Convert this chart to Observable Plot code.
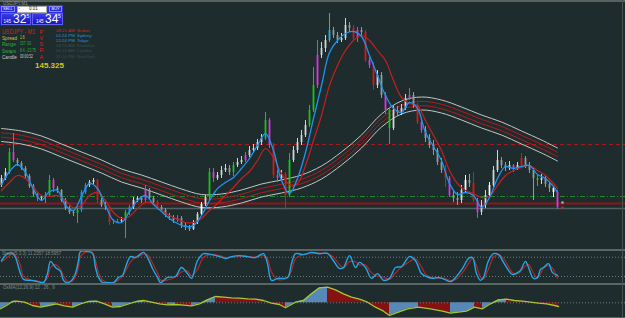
<!DOCTYPE html>
<html><head><meta charset="utf-8">
<script src="https://cdn.jsdelivr.net/npm/d3@7"></script>
<script src="https://cdn.jsdelivr.net/npm/@observablehq/plot@0.6"></script>
<style>
html,body{margin:0;padding:0;background:#1f2c2e;}
#wrap{position:relative;width:625px;height:318px;overflow:hidden;background:#1f2c2e;font-family:"Liberation Sans",Arial,sans-serif;}
.pl{position:absolute;left:0;}
.t{position:absolute;white-space:nowrap;line-height:1;transform-origin:0 0;}
.ln{position:absolute;}
</style></head><body><div id="wrap"></div><script>
// ---------- DATA ----------
const symbol = "USDJPY";
const timeframe = "M1";
const lastPrice = "145.325";
const opens = [
145.55,145.62,145.68,145.88,145.80,145.77,145.72,145.64,145.54,145.46,
145.42,145.43,145.45,145.60,145.52,145.50,145.40,145.32,145.28,145.27,
145.30,145.48,145.55,145.58,145.60,145.40,145.35,145.33,145.18,145.18,
145.19,145.20,145.28,145.33,145.40,145.42,145.40,145.50,145.42,145.38,
145.33,145.30,145.25,145.23,145.20,145.22,145.15,145.13,145.11,145.18,
145.26,145.36,145.43,145.68,145.62,145.65,145.70,145.72,145.68,145.75,
145.78,145.80,145.85,145.90,145.92,145.98,146.02,146.20,145.95,145.65,
145.62,145.66,145.45,145.80,145.90,145.98,146.05,146.15,146.30,146.55,
146.85,146.92,147.00,147.10,147.05,147.00,147.02,147.15,147.12,147.02,
147.10,147.08,146.80,146.75,146.55,146.65,146.45,146.30,146.12,146.30,
146.28,146.32,146.42,146.45,146.35,146.18,146.10,146.02,145.95,145.90,
145.78,145.70,145.62,145.45,145.42,145.40,145.50,145.60,145.57,145.40,
145.28,145.35,145.45,145.55,145.70,145.80,145.75,145.72,145.75,145.72,
145.75,145.82,145.75,145.70,145.62,145.60,145.62,145.56,145.52,145.48];
const highs = [
145.65,145.72,145.92,146.07,145.82,145.79,145.74,145.66,145.56,145.48,
145.45,145.48,145.65,145.62,145.54,145.51,145.42,145.34,145.30,145.33,
145.50,145.57,145.60,145.62,145.61,145.42,145.38,145.34,145.21,145.21,
145.23,145.30,145.35,145.43,145.44,145.44,145.55,145.52,145.44,145.40,
145.35,145.32,145.27,145.25,145.25,145.24,145.18,145.15,145.20,145.28,
145.38,145.45,145.72,145.72,145.68,145.74,145.76,145.75,145.78,145.82,
145.84,145.88,145.94,145.96,146.01,146.06,146.28,146.22,145.97,145.70,
145.70,145.68,145.87,145.94,146.02,146.10,146.20,146.35,146.73,147.00,
146.98,147.05,147.27,147.13,147.08,147.07,147.22,147.18,147.15,147.13,
147.13,147.10,146.83,146.78,146.70,146.68,146.48,146.32,146.34,146.34,
146.36,146.46,146.52,146.48,146.37,146.20,146.14,146.06,146.00,145.92,
145.82,145.75,145.64,145.50,145.48,145.55,145.65,145.66,145.68,145.42,
145.40,145.50,145.58,145.74,145.90,145.83,145.78,145.79,145.76,145.78,
145.87,145.84,145.78,145.72,145.65,145.66,145.64,145.58,145.54,145.50];
const lows = [
145.53,145.60,145.66,145.78,145.74,145.70,145.62,145.52,145.44,145.39,
145.40,145.37,145.43,145.48,145.47,145.38,145.30,145.26,145.24,145.17,
145.28,145.46,145.53,145.56,145.37,145.33,145.30,145.15,145.16,145.17,
145.17,145.02,145.25,145.31,145.38,145.37,145.38,145.40,145.36,145.30,
145.28,145.23,145.20,145.17,145.18,145.12,145.10,145.09,145.10,145.16,
145.24,145.34,145.40,145.58,145.60,145.62,145.68,145.65,145.64,145.73,
145.76,145.78,145.83,145.88,145.90,145.95,146.00,145.92,145.62,145.58,
145.60,145.30,145.43,145.78,145.87,145.95,146.03,146.13,146.28,146.52,
146.82,146.88,146.98,147.02,146.97,146.98,147.00,147.08,147.00,146.98,
147.04,146.78,146.72,146.50,146.52,146.42,146.26,145.96,146.10,146.24,
146.25,146.30,146.40,146.32,146.16,146.07,145.98,145.92,145.85,145.75,
145.67,145.53,145.43,145.38,145.35,145.37,145.48,145.53,145.38,145.22,
145.25,145.32,145.42,145.53,145.68,145.72,145.69,145.70,145.68,145.70,
145.73,145.72,145.67,145.40,145.54,145.56,145.53,145.48,145.43,145.31];
const closes = [
145.62,145.68,145.88,145.80,145.77,145.72,145.64,145.54,145.46,145.42,
145.43,145.45,145.60,145.52,145.50,145.40,145.32,145.28,145.27,145.30,
145.48,145.55,145.58,145.60,145.40,145.35,145.33,145.18,145.18,145.19,
145.20,145.28,145.33,145.40,145.42,145.40,145.50,145.42,145.38,145.33,
145.30,145.25,145.23,145.20,145.22,145.15,145.13,145.11,145.18,145.26,
145.36,145.43,145.68,145.62,145.65,145.70,145.72,145.68,145.75,145.78,
145.80,145.85,145.90,145.92,145.98,146.02,146.20,145.95,145.65,145.62,
145.66,145.45,145.80,145.90,145.98,146.05,146.15,146.30,146.55,146.85,
146.92,147.00,147.10,147.05,147.00,147.02,147.15,147.12,147.02,147.10,
147.08,146.80,146.75,146.55,146.65,146.45,146.30,146.12,146.30,146.28,
146.32,146.42,146.45,146.35,146.18,146.10,146.02,145.95,145.90,145.78,
145.70,145.62,145.45,145.42,145.40,145.50,145.60,145.57,145.40,145.28,
145.35,145.45,145.55,145.70,145.80,145.75,145.72,145.75,145.72,145.75,
145.82,145.75,145.70,145.62,145.60,145.62,145.56,145.52,145.48,145.33];
// highlighted candle colour codes (g green, m magenta, r red, b blue, c cyan, w white, - normal)
const candleCodes =
 "--gm-----m" + "-ggm-----g" + "bb--r--rbb" + "-gb---m--r" + "----m-----" +
 "w-gm----g-" + "-m----gmrm" + "-rg----ggm" + "--c-----rm" + "-rmr--mg--" +
 "--m-rm----" + "-rm---w-rm" + "--w-----m-" + "r---g---wm";
// fast (blue) and slow (red) moving averages, every 2nd bar + last bar
const fastMA = [145.56,145.69,145.76,145.68,145.51,145.40,145.49,145.50,145.35,145.30,
145.44,145.57,145.52,145.35,145.20,145.18,145.29,145.40,145.45,145.36,
145.29,145.22,145.17,145.14,145.15,145.25,145.40,145.52,145.58,145.63,
145.72,145.82,145.95,146.07,145.90,145.60,145.47,145.62,145.88,146.22,
146.55,146.88,147.00,147.07,147.09,147.04,146.85,146.65,146.45,146.32,
146.28,146.38,146.32,146.08,145.94,145.80,145.57,145.46,145.48,145.45,
145.33,145.43,145.62,145.74,145.72,145.74,145.75,145.66,145.62,145.54,145.48];
const slowMA = [145.50,145.58,145.65,145.62,145.53,145.45,145.44,145.45,145.40,145.33,
145.35,145.45,145.48,145.40,145.28,145.22,145.24,145.32,145.38,145.37,
145.30,145.25,145.21,145.18,145.18,145.22,145.30,145.37,145.45,145.53,
145.62,145.69,145.80,145.92,145.83,145.67,145.56,145.57,145.75,146.00,
146.25,146.55,146.75,146.90,147.00,147.05,147.00,146.90,146.80,146.60,
146.43,146.37,146.35,146.20,146.05,145.90,145.70,145.57,145.50,145.47,
145.43,145.44,145.55,145.65,145.70,145.73,145.75,145.70,145.65,145.57,145.52];
// long MA envelope centre, every 5th bar + last bar
const envCenter = [146.055,146.03,145.98,145.90,145.82,145.74,145.65,145.59,145.52,145.45,
145.395,145.40,145.44,145.50,145.54,145.59,145.68,145.82,145.99,146.20,
146.33,146.37,146.34,146.27,146.19,146.12,146.03,145.94,145.86];
const envOffsets = [{o:-0.065,c:"#c2c6c6"},{o:-0.022,c:"#b3191b"},{o:0.022,c:"#b3191b"},{o:0.065,c:"#c2c6c6"}];
// horizontal levels
const levels = [
 {p:145.96, c:"#a8191b", w:1, dash:"4,3"},
 {p:145.44, c:"#1f8a2a", w:1, dash:"5,2,1,2"},
 {p:145.37, c:"#8f1618", w:2, dash:null},
 {p:145.32, c:"#4f6162", w:1.5, dash:null}];
const endMarks = [{bar:140.25, p:145.33, c:"#e01a1a"},{bar:140.25, p:145.38, c:"#a9adad"}];
// stochastic %K and signal as [bar, value]
const stochK = [[0,69],[1.5,91],[2.75,92],[3.5,79],[4.75,29],[5.5,11],[7.25,8],[9,4],[10.5,1],[11.5,29],
[12.25,67],[13.5,48],[14.75,36],[15.5,8],[16.5,0],[17.75,11],[18.5,29],[19.25,69],[19.75,98],[21.5,98],
[22.75,92],[23.5,48],[24.25,17],[25.25,1],[26.5,1],[28,1],[29.25,17],[30.25,23],[31,48],[32.25,82],
[33.5,79],[34.25,85],[35.5,95],[36.5,79],[37.75,45],[39,17],[39.75,1],[41.5,17],[43.5,20],[45,48],
[46.5,29],[47.5,14],[49,69],[50.5,91],[52.5,88],[54.5,82],[56,76],[57.5,82],[59.5,85],[61.5,82],
[63.5,79],[65.5,91],[66.5,60],[67.5,8],[69,14],[71.5,17],[72.5,60],[73.5,91],[75.5,88],[77.5,95],
[79.5,91],[81.5,92],[83,69],[84.5,45],[85.5,48],[87,85],[88.5,48],[89.5,64],[91,48],[92.5,14],
[94,29],[95.5,8],[97,14],[98.5,48],[100,51],[102,82],[103.5,69],[105,29],[106.25,20],[107.75,14],
[109.25,17],[110.75,11],[112.25,4],[113.75,20],[115.25,45],[116.75,76],[117.75,79],[118.75,29],[119.75,8],[120.5,17],
[121.75,69],[123,91],[124.25,88],[125.5,64],[126.75,39],[127.75,26],[129,32],[129.75,39],[131,67],[131.75,48],
[133,14],[134,17],[134.75,42],[135.5,48],[136.75,60],[137.75,32],[139,23]];
const stochD = [[0,65],[1.5,80],[2.75,91],[3.5,86],[4.75,54],[5.5,20],[7.25,10],[9,6],[10.5,3],[11.5,15],
[12.25,48],[13.5,57],[14.75,42],[15.5,22],[16.5,4],[17.75,6],[18.5,20],[19.25,49],[19.75,83],[21.5,98],
[22.75,95],[23.5,70],[24.25,33],[25.25,9],[26.5,1],[28,1],[29.25,9],[30.25,20],[31,36],[32.25,65],
[33.5,80],[34.25,82],[35.5,90],[36.5,87],[37.75,62],[39,31],[39.75,9],[41.5,9],[43.5,18],[45,34],
[46.5,38],[47.5,22],[49,42],[50.5,80],[52.5,89],[54.5,85],[56,79],[57.5,79],[59.5,83],[61.5,83],
[63.5,80],[65.5,85],[66.5,75],[67.5,34],[69,11],[71.5,15],[72.5,38],[73.5,75],[75.5,89],[77.5,91],
[79.5,93],[81.5,91],[83,80],[84.5,57],[85.5,46],[87,66],[88.5,66],[89.5,56],[91,56],[92.5,31],
[94,21],[95.5,18],[97,11],[98.5,31],[100,49],[102,66],[103.5,75],[105,49],[106.25,24],[107.75,17],
[109.25,15],[110.75,14],[112.25,7],[113.75,12],[115.25,32],[116.75,60],[117.75,77],[118.75,54],[119.75,18],[120.5,12],
[121.75,43],[123,80],[124.25,89],[125.5,76],[126.75,51],[127.75,32],[129,29],[129.75,35],[131,53],[131.75,57],
[133,31],[134,15],[134.75,29],[135.5,45],[136.75,54],[137.75,46],[139,14]];
const stochLevels = [80, 20];
// OsMA / MACD histogram as [bar, value in points]
const osma = [[-0.25,-6],[1.25,-2.7],[2.75,1.3],[3.75,1.6],[5.75,0.6],[7.75,-2.7],[9.75,-4.4],[11.75,-2.7],[13.75,-1],[15.75,-3],
[17.75,-4.4],[19.75,-1],[21.75,1.3],[23.75,1.6],[25.75,-1],[27.75,-4.4],[29.75,-3.7],[31.75,-1],[33.75,1.3],[35.5,2.3],
[37.5,0.6],[39.5,-1],[41.5,-2],[43.5,-1.7],[45.5,-2.4],[47.5,-3],[49.5,-1],[51.5,3],[53.5,6.3],[55.5,5.6],
[57.5,5],[59.5,4.6],[61.5,4],[63.5,3.6],[65.5,2.3],[67.5,-0.4],[69.5,-1.7],[71,-5],[72,-2.7],[73.5,0.6],
[75.5,2.3],[77.5,9],[79.5,15],[81.5,15.6],[83.5,13],[85.5,9],[87.5,5.6],[89.5,3.6],[91.5,0.6],[93.5,-4.4],
[95.5,-8.4],[97,-12.7],[98.5,-10.4],[101.5,-6],[104.25,-4.4],[107.25,-6],[110.25,-8.4],[112.25,-10.4],[114.25,-9.4],[116.25,-8.4],
[118.25,-4.4],[120.25,-6],[122.25,-1],[124.25,3],[126.25,3.6],[128.25,2.3],[130.25,1.6],[132.25,0.6],[134.25,-0.4],[136.25,-1],
[138.25,-2.7],[139.25,-3.7]];
const sessions = [["08:21 AM","Broker","#d42222"],["01:24 PM","Sydney","#2a8fd8"],["12:24 PM","Tokyo","#2a8fd8"],
 ["08:24 AM","Frankfurt","#3a4c4d"],["06:24 AM","London","#3a4c4d"],["11:24 PM","NewYork","#3a4c4d"]];
const infoRows = [["Spread","1.6","#c9c23a","#d9d23a"],["Range","157. 00","#2fae3a","#2fae3a"],
 ["Swaps","8.4, -23.75","#2fae3a","#2fae3a"],["Candle","00:00:52","#c8c8c8","#c8c8c8"]];
const pvsra = ["P","V","S","R","A"];

// ---------- BUILD ----------
const wrap = document.getElementById("wrap");
const xDom = [-0.25, 156];
const codeCol = {g:"#14c814", m:"#e034e0", r:"#e01616", b:"#1e8fff", c:"#1cb8e8", w:"#ffffff"};
const bars = closes.map((c,i)=>({i, o:opens[i], h:highs[i], l:lows[i], c, k:candleCodes[i]}));
const candleColor = d => codeCol[d.k] || (d.c >= d.o ? "#d2d5d5" : "#959b9b");
const maBars = [...d3.range(0,140,2), 139];
const envBars = [...d3.range(0,140,5), 139];
const fast = fastMA.map((v,j)=>({i:maBars[j], v}));
const slow = slowMA.map((v,j)=>({i:maBars[j], v}));
const env = envCenter.map((v,j)=>({i:envBars[j], v}));

function place(svg, top){ svg.classList.add("pl"); svg.style.top = top+"px"; wrap.appendChild(svg); }

const main = Plot.plot({
  width:625, height:249, margin:0,
  x:{domain:xDom, axis:null}, y:{domain:[144.91,147.40], axis:null},
  style:{background:"transparent", overflow:"visible"},
  marks:[
    ...levels.map(l=>Plot.ruleY([l.p], {stroke:l.c, strokeWidth:l.w, strokeDasharray:l.dash})),
    ...envOffsets.map(e=>Plot.line(env, {x:"i", y:d=>d.v+e.o, stroke:e.c, strokeWidth:1, curve:"catmull-rom"})),
    Plot.ruleX(bars, {x:"i", y1:"l", y2:"h", stroke:candleColor, strokeWidth:1}),
    Plot.ruleX(bars, {x:"i", y1:"o", y2:"c", stroke:candleColor, strokeWidth:1.8}),
    Plot.line(slow, {x:"i", y:"v", stroke:"#c81e1e", strokeWidth:1.2, curve:"catmull-rom"}),
    Plot.line(fast, {x:"i", y:"v", stroke:"#1f93f0", strokeWidth:1.3, curve:"catmull-rom"}),
    Plot.dot(endMarks, {x:"bar", y:"p", fill:"c", r:1.3, stroke:null})
  ]
});
place(main, 0);

const kData = stochK.map(([i,v])=>({i,v}));
const dData = stochD.map(([i,v])=>({i,v}));
const osc = Plot.plot({
  width:625, height:33, margin:0,
  x:{domain:xDom, axis:null}, y:{domain:[0,100], range:[32.4,0.3], axis:null},
  style:{background:"transparent", overflow:"visible"},
  marks:[
    Plot.ruleY(stochLevels, {stroke:"#6d7a7a", strokeDasharray:"1,2"}),
    Plot.line(dData, {x:"i", y:"v", stroke:"#c02424", strokeWidth:1.1, curve:"catmull-rom"}),
    Plot.line(kData, {x:"i", y:"v", stroke:"#22a6e6", strokeWidth:1.4, curve:"catmull-rom"})
  ]
});
place(osc, 250);

const segs = [];
for (let j=0;j<osma.length-1;j++){
  const up = osma[j+1][1] >= osma[j][1];
  segs.push({i:osma[j][0], v:osma[j][1], s:j, up});
  segs.push({i:osma[j+1][0], v:osma[j+1][1], s:j, up});
}
const osData = osma.map(([i,v])=>({i,v}));
const macd = Plot.plot({
  width:625, height:33, margin:0,
  x:{domain:xDom, axis:null}, y:{domain:[-14.7,18.3], axis:null},
  style:{background:"transparent", overflow:"visible"},
  marks:[
    Plot.area(segs, {x1:"i", y1:0, y2:"v", z:"s", fill:d=>d.up?"#5a8ec2":"#8c1010", fillOpacity:0.95}),
    Plot.ruleY([0], {stroke:"#6d7a7a", strokeDasharray:"1,2"}),
    Plot.line(osData, {x:"i", y:"v", stroke:"#a6c832", strokeWidth:1.3})
  ]
});
place(macd, 284);

// panel borders
function hline(top,h,col){ const d=document.createElement("div"); d.className="ln"; Object.assign(d.style,{left:"0px",top:top+"px",width:"625px",height:h+"px",background:col}); wrap.appendChild(d); }
hline(0,1.5,"#59615f"); hline(248.5,2,"#5b6564"); hline(283,1.5,"#5b6564"); hline(317,1,"#5b6564");
const vb=document.createElement("div"); vb.className="ln"; Object.assign(vb.style,{left:"622px",top:"0px",width:"1px",height:"318px",background:"#46534f"}); wrap.appendChild(vb);

function txt(s,x,y,size,color,extra){ const d=document.createElement("div"); d.className="t"; d.textContent=s;
  Object.assign(d.style,{left:x+"px",top:y+"px",fontSize:size+"px",color}, extra||{}); wrap.appendChild(d); return d; }

// panel labels
txt(symbol+","+timeframe,3,1.5,4.5,"#8f9a9a");
txt("Stoch(5,3,3) 11.2357 18.5957",2,251.5,4.5,"#7d8a8a");
txt("OsMA(12,26,9)  12 , 26 , 9",3,286,4.5,"#7d8a8a");

// trade widget
function box(x,y,w,h,bg,border){ const d=document.createElement("div"); d.className="ln";
  Object.assign(d.style,{left:x+"px",top:y+"px",width:w+"px",height:h+"px",background:bg,border:border||"none",boxSizing:"border-box"}); wrap.appendChild(d); }
box(0,5,63,20.5,"linear-gradient(#3535e6,#1c1cc4)");
box(1,6,14,6,"#2b2bd8","1px solid #8a8af0");
box(16.5,5.5,30.5,7,"#ffffff","1px solid #aaaaaa");
box(48.5,6,13.5,6,"#2b2bd8","1px solid #8a8af0");
box(0.5,12.5,30.5,12.5,"linear-gradient(#3a3aea,#1616c0)","1px solid #6060f0");
box(32,12.5,30.5,12.5,"linear-gradient(#3a3aea,#1616c0)","1px solid #6060f0");
txt("SELL",3,7.3,4,"#ffffff");
txt("BUY",51.5,7.3,4,"#ffffff");
txt("-",18.5,6.3,5,"#333333");
txt("0.01",29,6.8,4.5,"#222222");
txt("145",3.5,19.5,4.5,"#ffffff");
txt("32",13,13,12,"#ffffff");
txt("5",26.5,13.5,5,"#ffffff");
txt("145",36,19.5,4.5,"#ffffff");
txt("34",45,13,12,"#ffffff");
txt("5",58,13.5,5,"#ffffff");

// info block
txt(symbol+" - "+timeframe,2,28.5,6.3,"#d82020",{transform:"scaleX(0.85)"});
infoRows.forEach((r,k)=>{ const y=35.5+k*6.5; txt(r[0],2,y,5.2,r[2],{transform:"scaleX(0.9)"}); txt(r[1],19.5,y+0.3,4.6,r[3],{transform:"scaleX(0.72)"}); });
pvsra.forEach((s,k)=>txt(s,39.5,29.5+k*6.3,5.5,"#d82020"));
sessions.forEach((r,k)=>{ const y=28.5+k*5.2; txt(r[0],56,y,4.4,r[2]); txt(r[1],77,y,4.4,r[2]); });
txt(lastPrice,35,62,8,"#d8c41c",{fontWeight:"bold"});
</script></body></html>
